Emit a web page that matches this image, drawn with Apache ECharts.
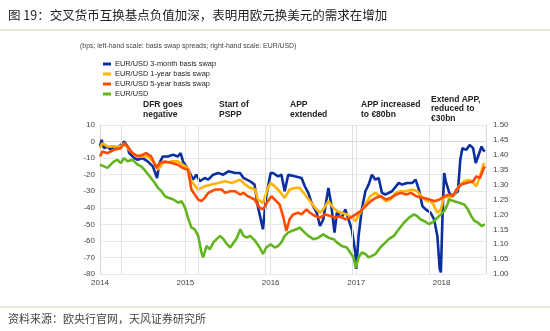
<!DOCTYPE html>
<html>
<head>
<meta charset="utf-8">
<script src="https://cdn.jsdelivr.net/npm/echarts@6/dist/echarts.min.js"></script>
<style>
  html, body { margin: 0; padding: 0; background: #fff; }
  #chart { width: 550px; height: 331px; }
</style>
</head>
<body>
<div id="chart"></div>
<script>
const titleText = "图 19：交叉货币互换基点负值加深，表明用欧元换美元的需求在增加";
const subtitleText = "(bps; left-hand scale: basis swap spreads; right-hand scale: EUR/USD)";
const sourceText = "资料来源：欧央行官网，天风证券研究所";
const seriesNames = ["EUR/USD 3-month basis swap", "EUR/USD 1-year basis swap", "EUR/USD 5-year basis swap", "EUR/USD"];
const eventDates = ["2014-04-01", "2015-02-26", "2015-12-10", "2016-12-14", "2017-11-10"];
const eventLabels = ["DFR goes\nnegative", "Start of\nPSPP", "APP\nextended", "APP increased\nto €80bn", "Extend APP,\nreduced to\n€30bn"];

// bps, left axis
const swap3m = [
  ['2014-01-01',-3],['2014-01-08',1],['2014-01-18',-4],['2014-02-02',-3],['2014-02-16',-5],['2014-03-02',-3],
  ['2014-03-17',-4],['2014-03-31',-2],['2014-04-14',0],['2014-04-29',-3],['2014-05-06',-7],['2014-05-28',-10],
  ['2014-06-11',-11],['2014-07-02',-10],['2014-07-24',-12],['2014-08-15',-15],['2014-09-02',-22],['2014-09-12',-13],
  ['2014-09-27',-9],['2014-10-18',-9],['2014-11-09',-8],['2014-11-30',-9],['2014-12-12',-7],['2014-12-22',-12],
  ['2015-01-05',-15],['2015-01-20',-19],['2015-02-03',-23],['2015-02-17',-20],['2015-03-04',-24],['2015-03-25',-22],
  ['2015-04-09',-23],['2015-04-30',-20],['2015-05-22',-19],['2015-06-12',-20],['2015-07-04',-18],['2015-08-02',-19],
  ['2015-08-23',-19],['2015-09-07',-22],['2015-09-21',-23],['2015-10-05',-24],['2015-10-24',-26],['2015-11-07',-39],
  ['2015-11-29',-53],['2015-12-13',-33],['2016-01-01',-19],['2016-01-11',-19],['2016-02-02',-21],['2016-02-16',-20],
  ['2016-03-01',-30],['2016-03-16',-20],['2016-04-13',-21],['2016-05-12',-22],['2016-05-26',-27],['2016-06-10',-31],
  ['2016-06-24',-37],['2016-07-16',-43],['2016-07-30',-51],['2016-08-13',-47],['2016-09-04',-28],['2016-09-15',-37],
  ['2016-09-30',-55],['2016-10-10',-43],['2016-10-31',-46],['2016-11-15',-41],['2016-11-29',-47],['2016-12-13',-53],
  ['2016-12-28',-67],['2017-01-01',-77],['2017-01-11',-57],['2017-01-25',-41],['2017-02-09',-30],['2017-02-23',-26],
  ['2017-03-09',-20],['2017-03-24',-23],['2017-04-07',-22],['2017-04-21',-31],['2017-05-06',-32],['2017-05-20',-31],
  ['2017-06-03',-30],['2017-07-02',-25],['2017-07-16',-26],['2017-08-07',-25],['2017-08-29',-25],['2017-09-12',-23],
  ['2017-09-26',-29],['2017-10-11',-39],['2017-10-25',-41],['2017-11-15',-43],['2017-11-30',-47],['2017-12-14',-57],
  ['2017-12-24',-77],['2017-12-29',-79],['2018-01-05',-45],['2018-01-12',-19],['2018-01-19',-24],['2018-02-03',-31],
  ['2018-02-18',-33],['2018-03-03',-31],['2018-03-12',-30],['2018-03-22',-11],['2018-03-31',-4],['2018-04-17',-5],
  ['2018-05-01',-2],['2018-05-16',-4],['2018-05-27',-13],['2018-06-06',-9],['2018-06-21',-3],['2018-06-28',-5],
  ['2018-07-05',-6]
];
const swap1y = [
  ['2014-01-01',-4],['2014-01-11',-1],['2014-02-02',-3],['2014-03-02',-3],['2014-03-31',-3],['2014-04-14',-1],
  ['2014-05-06',-5],['2014-05-28',-8],['2014-06-26',-9],['2014-07-24',-9],['2014-08-23',-13],['2014-09-06',-17],
  ['2014-09-27',-13],['2014-11-04',-12],['2014-11-30',-12],['2014-12-22',-14],['2015-01-12',-16],['2015-01-27',-24],
  ['2015-02-25',-29],['2015-03-25',-27],['2015-04-23',-26],['2015-05-22',-25],['2015-06-20',-24],['2015-07-19',-25],
  ['2015-08-23',-23],['2015-09-14',-26],['2015-10-05',-28],['2015-10-27',-29],['2015-11-07',-35],['2015-11-29',-37],
  ['2015-12-20',-28],['2016-01-01',-25],['2016-01-18',-27],['2016-02-08',-30],['2016-03-01',-34],['2016-03-22',-29],
  ['2016-04-13',-28],['2016-05-04',-28],['2016-05-26',-32],['2016-06-17',-36],['2016-07-09',-40],['2016-07-30',-43],
  ['2016-08-13',-41],['2016-09-04',-36],['2016-09-19',-39],['2016-10-10',-42],['2016-10-31',-43],['2016-11-22',-44],
  ['2016-12-13',-46],['2016-12-28',-48],['2017-01-18',-43],['2017-02-09',-38],['2017-03-02',-33],['2017-03-24',-31],
  ['2017-04-14',-33],['2017-05-06',-36],['2017-05-27',-35],['2017-06-18',-31],['2017-07-10',-30],['2017-07-31',-30],
  ['2017-08-29',-29],['2017-09-19',-30],['2017-10-11',-34],['2017-11-01',-36],['2017-11-23',-37],['2017-12-14',-43],
  ['2017-12-29',-41],['2018-01-12',-33],['2018-02-02',-34],['2018-02-24',-32],['2018-03-17',-27],['2018-04-08',-24],
  ['2018-04-29',-23],['2018-05-16',-25],['2018-05-30',-27],['2018-06-14',-21],['2018-06-28',-14],['2018-07-05',-13]
];
const swap5y = [
  ['2014-01-01',-9],['2014-01-11',-6],['2014-02-02',-7],['2014-03-02',-5],['2014-03-31',-4],['2014-04-14',-1],
  ['2014-04-29',-3],['2014-05-20',-7],['2014-06-11',-9],['2014-07-02',-8],['2014-07-17',-7],['2014-08-08',-9],
  ['2014-08-30',-16],['2014-09-12',-13],['2014-10-06',-12],['2014-11-04',-13],['2014-11-30',-14],['2014-12-22',-16],
  ['2015-01-12',-17],['2015-01-27',-29],['2015-02-10',-32],['2015-02-25',-35],['2015-03-11',-36],['2015-03-25',-34],
  ['2015-04-09',-31],['2015-04-23',-30],['2015-05-08',-29],['2015-06-06',-29],['2015-06-20',-31],['2015-07-12',-30],
  ['2015-08-02',-30],['2015-08-23',-32],['2015-09-07',-31],['2015-09-25',-33],['2015-10-24',-35],['2015-11-15',-40],
  ['2015-11-29',-41],['2015-12-20',-36],['2016-01-04',-33],['2016-01-18',-35],['2016-02-08',-38],['2016-02-23',-45],
  ['2016-03-08',-54],['2016-03-22',-47],['2016-04-06',-44],['2016-04-27',-43],['2016-05-12',-44],['2016-06-02',-41],
  ['2016-06-17',-43],['2016-07-09',-45],['2016-07-30',-46],['2016-08-21',-44],['2016-09-12',-45],['2016-10-04',-46],
  ['2016-10-25',-45],['2016-11-16',-47],['2016-12-08',-46],['2016-12-30',-44],['2017-01-20',-42],['2017-02-10',-39],
  ['2017-03-04',-36],['2017-03-25',-34],['2017-04-16',-33],['2017-05-08',-35],['2017-05-29',-34],['2017-06-20',-32],
  ['2017-07-12',-31],['2017-08-02',-32],['2017-08-24',-31],['2017-09-14',-33],['2017-10-13',-34],['2017-11-11',-35],
  ['2017-12-02',-36],['2017-12-23',-35],['2018-01-14',-33],['2018-02-04',-32],['2018-02-18',-33],['2018-03-05',-29],
  ['2018-03-26',-26],['2018-04-17',-25],['2018-05-16',-24],['2018-05-30',-21],['2018-06-14',-22],['2018-06-28',-17],
  ['2018-07-05',-15]
];
// EUR/USD, right axis
const eurusd = [
  ['2014-01-01',1.367],['2014-01-18',1.361],['2014-02-02',1.356],['2014-02-16',1.367],['2014-03-02',1.378],['2014-03-17',1.383],
  ['2014-03-31',1.372],['2014-04-14',1.389],['2014-04-29',1.378],['2014-05-20',1.383],['2014-06-11',1.367],['2014-06-26',1.361],
  ['2014-07-10',1.350],['2014-08-01',1.328],['2014-08-23',1.306],['2014-09-06',1.289],['2014-09-21',1.278],['2014-10-06',1.261],
  ['2014-10-20',1.256],['2014-11-11',1.250],['2014-12-02',1.239],['2014-12-16',1.244],['2014-12-31',1.222],['2015-01-12',1.189],
  ['2015-01-27',1.156],['2015-02-10',1.150],['2015-02-25',1.128],['2015-03-11',1.072],['2015-03-18',1.056],['2015-04-02',1.094],
  ['2015-04-16',1.083],['2015-05-01',1.106],['2015-05-15',1.117],['2015-05-30',1.128],['2015-06-13',1.117],['2015-06-28',1.100],
  ['2015-07-12',1.089],['2015-07-27',1.106],['2015-08-10',1.122],['2015-08-24',1.150],['2015-09-07',1.128],['2015-09-21',1.122],
  ['2015-10-05',1.128],['2015-10-27',1.111],['2015-11-15',1.089],['2015-11-29',1.067],['2015-12-13',1.089],['2016-01-01',1.100],
  ['2016-01-18',1.089],['2016-02-02',1.094],['2016-02-16',1.106],['2016-03-01',1.128],['2016-03-16',1.139],['2016-03-30',1.144],
  ['2016-04-20',1.150],['2016-05-05',1.156],['2016-05-19',1.144],['2016-06-10',1.128],['2016-07-02',1.117],['2016-07-23',1.122],
  ['2016-08-13',1.133],['2016-09-04',1.122],['2016-09-26',1.117],['2016-10-10',1.106],['2016-10-31',1.094],['2016-11-22',1.089],
  ['2016-12-06',1.072],['2016-12-20',1.056],['2016-12-30',1.020],['2017-01-11',1.056],['2017-01-25',1.072],['2017-02-09',1.067],
  ['2017-02-23',1.056],['2017-03-09',1.061],['2017-03-24',1.067],['2017-04-14',1.089],['2017-05-06',1.106],['2017-05-20',1.117],
  ['2017-06-11',1.128],['2017-07-02',1.150],['2017-07-24',1.172],['2017-08-15',1.189],['2017-09-05',1.200],['2017-09-19',1.194],
  ['2017-10-04',1.183],['2017-10-18',1.178],['2017-11-09',1.167],['2017-12-01',1.178],['2017-12-14',1.189],['2017-12-29',1.200],
  ['2018-01-12',1.211],['2018-01-26',1.233],['2018-02-02',1.250],['2018-02-24',1.244],['2018-03-17',1.239],['2018-04-08',1.233],
  ['2018-04-24',1.217],['2018-05-08',1.194],['2018-05-22',1.178],['2018-06-06',1.172],['2018-06-21',1.161],['2018-07-05',1.167]
];

const colors = ["#0a2f9e", "#ffb400", "#ff4b00", "#62b51e"];
const annotX = [143, 219, 290, 361, 431];

let myChart = echarts.init(document.getElementById("chart"), null, { renderer: "canvas" });

const lineSeries = (name, data, idx, yIdx) => ({
  name: name,
  type: "line",
  data: data,
  yAxisIndex: yIdx,
  showSymbol: false,
  symbol: "none",
  animation: false,
  lineStyle: { width: 2.6, color: colors[idx] },
  itemStyle: { color: colors[idx] },
  z: 3 + idx
});

let annotations = eventLabels.map((t, i) => ({
  type: "text",
  left: annotX[i],
  top: i === 4 ? 95 : 100,
  style: {
    text: t,
    font: 'bold 8.5px "Liberation Sans", Arial',
    fill: "#222",
    lineHeight: i === 4 ? 9.3 : 10
  }
}));

let option = {
  backgroundColor: "#fff",
  animation: false,
  grid: { left: 100, right: 64, top: 125, bottom: 57 },
  legend: {
    orient: "vertical",
    left: 98,
    top: 54,
    itemWidth: 8,
    itemHeight: 3,
    itemGap: 0,
    icon: "rect",
    data: seriesNames,
    textStyle: { fontSize: 7.4, color: "#222", fontFamily: "Liberation Sans", lineHeight: 10, padding: [0, 0, 0, -1] }
  },
  xAxis: {
    type: "time",
    min: "2014-01-01",
    max: "2018-07-10",
    minInterval: 365 * 24 * 3600 * 1000,
    axisLine: { lineStyle: { color: "#d8d8d8" } },
    axisTick: { show: false },
    axisLabel: { formatter: "{yyyy}", fontSize: 8, color: "#444", fontFamily: "Liberation Sans", margin: 5, showMaxLabel: false },
    splitLine: { show: true, lineStyle: { color: "#e4e4e4", width: 1 } }
  },
  yAxis: [
    {
      type: "value",
      min: -80,
      max: 10,
      interval: 10,
      axisLine: { show: true, lineStyle: { color: "#d8d8d8" } },
      axisTick: { show: false },
      axisLabel: { fontSize: 8, color: "#444", fontFamily: "Liberation Sans", margin: 5 },
      splitLine: { lineStyle: { color: "#e8e8e8" } }
    },
    {
      type: "value",
      min: 1.0,
      max: 1.5,
      interval: 0.05,
      axisLine: { show: true, lineStyle: { color: "#d8d8d8" } },
      axisTick: { show: false },
      axisLabel: { fontSize: 8, color: "#444", fontFamily: "Liberation Sans", margin: 7, formatter: v => v.toFixed(2) },
      splitLine: { show: false }
    }
  ],
  series: [
    Object.assign(lineSeries(seriesNames[0], swap3m, 0, 0), {
      markLine: {
        silent: true,
        symbol: "none",
        label: { show: false },
        lineStyle: { color: "#e0e0e0", type: "solid", width: 1 },
        data: eventDates.map(d => ({ xAxis: d }))
      }
    }),
    lineSeries(seriesNames[1], swap1y, 1, 0),
    lineSeries(seriesNames[2], swap5y, 2, 0),
    lineSeries(seriesNames[3], eurusd, 3, 1)
  ],
  graphic: [
    { type: "text", left: 8, top: 9, style: { text: titleText, font: '12.5px "Noto Sans CJK SC"', fill: "#1e1e1e" } },
    { type: "line", shape: { x1: 0, y1: 30, x2: 550, y2: 30 }, style: { stroke: "#d9cbb3", lineWidth: 1 } },
    { type: "text", left: 80, top: 43, style: { text: subtitleText, font: '6.9px "Liberation Sans", Arial', fill: "#444" } },
    { type: "line", shape: { x1: 0, y1: 307, x2: 550, y2: 307 }, style: { stroke: "#d9cbb3", lineWidth: 1 } },
    { type: "text", left: 8, top: 313, style: { text: sourceText, font: '11px "Noto Sans CJK SC"', fill: "#444" } }
  ].concat(annotations)
};
option && myChart.setOption(option);
</script>
</body>
</html>
